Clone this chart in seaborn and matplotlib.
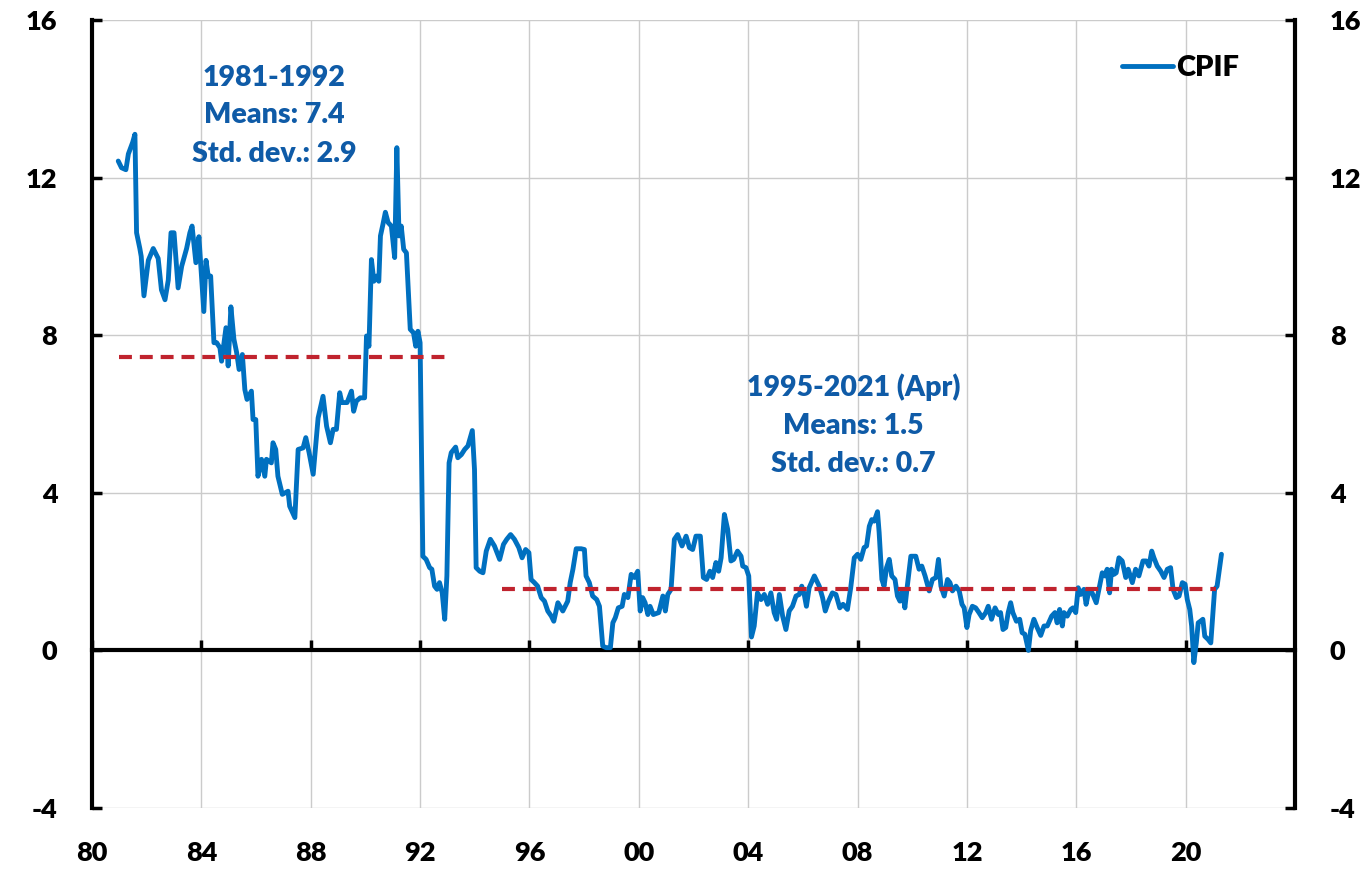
import matplotlib
matplotlib.use("Agg")
import matplotlib.pyplot as plt
import numpy as np
import pandas as pd
import seaborn as sns

# ---------------- data ----------------
dates_a = [1980.96, 1981.08, 1981.24, 1981.33, 1981.49, 1981.57, 1981.63, 1981.75, 1981.80, 1981.90,
           1982.06, 1982.24, 1982.42, 1982.54, 1982.67, 1982.79, 1982.89, 1983.00, 1983.15, 1983.28,
           1983.46, 1983.58, 1983.66, 1983.80, 1983.91, 1984.09, 1984.17, 1984.25, 1984.34, 1984.46,
           1984.56, 1984.68, 1984.74, 1984.90, 1984.98, 1985.08, 1985.19, 1985.29, 1985.38, 1985.50,
           1985.59, 1985.67, 1985.83, 1985.89, 1985.99, 1986.07, 1986.20, 1986.32, 1986.38, 1986.56,
           1986.62, 1986.72, 1986.80, 1986.96, 1987.17, 1987.23, 1987.42, 1987.54, 1987.72, 1987.82,
           1987.94, 1988.09, 1988.27, 1988.45, 1988.58, 1988.72, 1988.82, 1988.94, 1989.06, 1989.14,
           1989.33, 1989.49, 1989.57, 1989.67, 1989.81, 1989.97, 1990.04, 1990.13, 1990.22, 1990.31,
           1990.40, 1990.49, 1990.55, 1990.64, 1990.73, 1990.83, 1990.95, 1991.07, 1991.15, 1991.23,
           1991.31, 1991.40, 1991.50, 1991.64, 1991.76, 1991.84, 1991.92, 1992.00]
values_a = [12.42, 12.25, 12.2, 12.6, 12.9, 13.1, 10.6, 10.2, 10.0, 9.0,
            9.9, 10.2, 9.95, 9.15, 8.9, 9.4, 10.6, 10.6, 9.2, 9.75,
            10.2, 10.6, 10.77, 9.84, 10.5, 8.6, 9.9, 9.5, 9.5, 7.81,
            7.81, 7.68, 7.34, 8.19, 7.22, 8.72, 7.9, 7.56, 7.13, 7.51,
            6.62, 6.37, 6.58, 5.86, 5.86, 4.42, 4.85, 4.42, 4.85, 4.76,
            5.27, 5.1, 4.42, 3.96, 4.04, 3.66, 3.37, 5.1, 5.14, 5.4,
            5.02, 4.47, 5.9, 6.45, 5.69, 5.27, 5.61, 5.61, 6.54, 6.29,
            6.29, 6.58, 6.07, 6.33, 6.41, 6.41, 7.98, 7.72, 9.92, 9.37,
            9.5, 9.37, 10.52, 10.81, 11.12, 10.86, 10.77, 9.97, 12.76, 10.52,
            10.77, 10.18, 10.09, 8.15, 8.06, 7.72, 8.1, 7.81]

dates_b = [1992.10, 1992.22, 1992.35, 1992.43, 1992.53, 1992.62, 1992.71, 1992.81, 1992.90, 1992.98,
           1993.06, 1993.14, 1993.30, 1993.38, 1993.51, 1993.63, 1993.75, 1993.91, 1993.99, 1994.05,
           1994.18, 1994.30, 1994.42, 1994.57, 1994.72, 1994.91, 1995.05, 1995.17, 1995.31, 1995.45,
           1995.61, 1995.73, 1995.86, 1995.98, 1996.06, 1996.18, 1996.30, 1996.43, 1996.55, 1996.67,
           1996.80, 1996.89, 1997.04, 1997.22, 1997.40, 1997.49, 1997.59, 1997.71, 1997.89, 1998.01,
           1998.07, 1998.19, 1998.31, 1998.46, 1998.56, 1998.68, 1998.80, 1998.96, 1999.05, 1999.14,
           1999.25, 1999.39, 1999.47, 1999.60, 1999.72, 1999.84, 1999.96, 2000.05, 2000.14, 2000.23,
           2000.33, 2000.41, 2000.53, 2000.73, 2000.88, 2000.97, 2001.06, 2001.18, 2001.30, 2001.42,
           2001.58, 2001.73, 2001.85, 2001.97, 2002.09, 2002.25, 2002.36, 2002.48, 2002.60, 2002.70,
           2002.82, 2002.92, 2003.01, 2003.13, 2003.25, 2003.37, 2003.47, 2003.61, 2003.74, 2003.80,
           2003.92, 2004.02, 2004.12]
values_b = [2.39, 2.31, 2.1, 2.06, 1.63, 1.55, 1.72, 1.46, 0.79, 1.89,
            4.76, 5.02, 5.16, 4.89, 4.97, 5.1, 5.19, 5.58, 4.59, 2.1,
            2.01, 1.97, 2.52, 2.82, 2.65, 2.31, 2.69, 2.82, 2.94, 2.82,
            2.61, 2.35, 2.56, 2.48, 1.8, 1.72, 1.63, 1.34, 1.25, 1.0,
            0.87, 0.74, 1.21, 1.0, 1.25, 1.72, 2.06, 2.58, 2.58, 2.56,
            1.89, 1.72, 1.38, 1.29, 1.12, 0.11, 0.07, 0.07, 0.7, 0.83,
            1.08, 1.12, 1.42, 1.34, 1.93, 1.85, 2.01, 1.0, 1.34, 1.21,
            0.91, 1.12, 0.91, 0.96, 1.38, 1.0, 1.42, 1.55, 2.82, 2.94,
            2.65, 2.9, 2.61, 2.56, 2.9, 2.9, 1.85, 1.8, 2.01, 1.85,
            2.23, 2.01, 2.35, 3.45, 3.07, 2.27, 2.31, 2.52, 2.39, 2.14,
            2.1, 1.89, 0.34]

dates_c = [2004.22, 2004.34, 2004.47, 2004.59, 2004.71, 2004.83, 2004.95, 2005.04, 2005.14, 2005.26,
           2005.38, 2005.50, 2005.62, 2005.75, 2005.87, 2005.96, 2006.05, 2006.13, 2006.23, 2006.42,
           2006.60, 2006.72, 2006.82, 2006.94, 2007.08, 2007.21, 2007.35, 2007.47, 2007.63, 2007.75,
           2007.88, 2008.00, 2008.12, 2008.24, 2008.33, 2008.43, 2008.52, 2008.61, 2008.73, 2008.79,
           2008.89, 2008.97, 2009.06, 2009.16, 2009.25, 2009.37, 2009.46, 2009.55, 2009.64, 2009.73,
           2009.82, 2009.95, 2010.13, 2010.25, 2010.35, 2010.47, 2010.62, 2010.74, 2010.87, 2010.96,
           2011.05, 2011.17, 2011.29, 2011.38, 2011.47, 2011.60, 2011.72, 2011.82, 2011.90, 2012.00,
           2012.08, 2012.20, 2012.32, 2012.44, 2012.56, 2012.69, 2012.78, 2012.90, 2013.03, 2013.15,
           2013.23, 2013.32, 2013.42, 2013.51, 2013.60, 2013.68, 2013.81, 2013.93, 2014.02, 2014.12,
           2014.25, 2014.33, 2014.45, 2014.57, 2014.70, 2014.82, 2014.94]
values_c = [0.62, 1.46, 1.29, 1.42, 1.17, 1.46, 0.96, 0.79, 1.42, 0.87,
            0.53, 1.0, 1.12, 1.38, 1.42, 1.63, 1.42, 1.12, 1.59, 1.89,
            1.63, 1.34, 1.0, 1.25, 1.46, 1.42, 1.08, 1.17, 1.04, 1.59,
            2.35, 2.44, 2.31, 2.61, 2.65, 3.15, 3.32, 3.28, 3.52, 2.99,
            1.8, 1.63, 2.1, 2.31, 1.89, 1.8, 1.38, 1.25, 1.55, 1.08,
            1.63, 2.39, 2.39, 2.06, 2.14, 1.89, 1.51, 1.8, 1.85, 2.31,
            1.63, 1.38, 1.8, 1.72, 1.51, 1.63, 1.51, 1.17, 1.08, 0.58,
            0.91, 1.12, 1.08, 0.96, 0.83, 0.96, 1.12, 0.79, 1.08, 0.91,
            0.96, 0.53, 0.58, 0.96, 1.21, 0.96, 0.74, 0.79, 0.45, 0.41,
            0.0, 0.5, 0.79, 0.58, 0.38, 0.62, 0.62]

dates_d = [2015.10, 2015.22, 2015.30, 2015.39, 2015.49, 2015.55, 2015.67, 2015.80, 2015.88, 2015.98,
           2016.07, 2016.16, 2016.28, 2016.36, 2016.46, 2016.58, 2016.73, 2016.83, 2016.95, 2017.05,
           2017.13, 2017.22, 2017.29, 2017.38, 2017.46, 2017.56, 2017.68, 2017.81, 2017.90, 2018.05,
           2018.17, 2018.29, 2018.44, 2018.56, 2018.66, 2018.76, 2018.84, 2018.96, 2019.09, 2019.21,
           2019.33, 2019.45, 2019.54, 2019.66, 2019.76, 2019.88, 2019.98, 2020.06, 2020.15, 2020.22,
           2020.30, 2020.39, 2020.46, 2020.54, 2020.63, 2020.70, 2020.82, 2020.92, 2020.99, 2021.06,
           2021.15, 2021.31]
values_d = [0.87, 0.96, 0.7, 1.04, 0.62, 0.96, 0.87, 1.04, 1.08, 0.96,
            1.59, 1.42, 1.55, 1.17, 1.51, 1.46, 1.21, 1.55, 1.97, 1.89,
            2.06, 1.46, 2.06, 1.93, 1.97, 2.35, 2.27, 1.85, 2.06, 1.72,
            2.06, 1.89, 2.27, 2.27, 2.14, 2.52, 2.35, 2.14, 2.01, 1.85,
            2.06, 2.1, 1.55, 1.34, 1.38, 1.72, 1.68, 1.29, 1.04, 0.62,
            -0.31, 0.19, 0.7, 0.74, 0.79, 0.36, 0.28, 0.19, 0.87, 1.55,
            1.63, 2.44]

period_start = [1981.0, 1995.0]
period_end = [1993.0, 2021.1]
period_mean = [7.45, 1.55]

ann1_lines = ["1981-1992", "Means: 7.4", "Std. dev.: 2.9"]
ann2_lines = ["1995-2021 (Apr)", "Means: 1.5", "Std. dev.: 0.7"]

xtick_years = [1980, 1984, 1988, 1992, 1996, 2000, 2004, 2008, 2012, 2016, 2020]
xtick_labels = ["80", "84", "88", "92", "96", "00", "04", "08", "12", "16", "20"]
yticks = [-4, 0, 4, 8, 12, 16]

# ---------------- style ----------------
sns.set_theme(style="white")
plt.rcParams["font.family"] = ["Lato", "DejaVu Sans"]
plt.rcParams["font.weight"] = "heavy"
plt.rcParams["axes.unicode_minus"] = False

BLUE = "#0070C0"
RED = "#C0232E"
TXT_BLUE = "#0F5BA7"
W = "heavy"

df = pd.DataFrame({
    "date": dates_a + dates_b + dates_c + dates_d,
    "CPIF": values_a + values_b + values_c + values_d,
})

fig = plt.figure(figsize=(13.71, 8.72), dpi=100)
ax = fig.add_axes([92 / 1371, 1 - 808 / 872, (1295 - 92) / 1371, (808 - 20) / 872])

sns.lineplot(data=df, x="date", y="CPIF", ax=ax, color=BLUE, lw=3.5,
             label="CPIF", estimator=None, sort=False, zorder=4)

for s, e, m in zip(period_start, period_end, period_mean):
    mdf = pd.DataFrame({"date": [s, e], "mean": [m, m]})
    sns.lineplot(data=mdf, x="date", y="mean", ax=ax, color=RED, lw=3.0,
                 linestyle=(0, (3.1, 1.9)), estimator=None, legend=False, zorder=5)

ax.set_xlim(1980, 2024)
ax.set_ylim(-4, 16)
ax.set_xticks(xtick_years)
ax.set_xticklabels(xtick_labels)
ax.set_yticks(yticks)
ax.set_xlabel("")
ax.set_ylabel("")

ax.grid(True, color="#CBCBCB", lw=1.0)
ax.set_axisbelow(True)

for side in ["left", "right"]:
    ax.spines[side].set_visible(True)
    ax.spines[side].set_color("black")
    ax.spines[side].set_linewidth(3.0)
ax.spines["top"].set_visible(False)
ax.spines["bottom"].set_position(("data", 0))
ax.spines["bottom"].set_color("black")
ax.spines["bottom"].set_linewidth(3.0)
ax.spines["bottom"].set_zorder(3)

ax.tick_params(axis="y", which="both", direction="in", length=7, width=2.5,
               color="black", left=True, right=True, labelleft=True, labelright=True,
               labelsize=19.5, pad=25, labelcolor="black")
ax.tick_params(axis="x", which="both", direction="in", length=7, width=2.5,
               color="black", bottom=True, top=False, labelsize=19.5, pad=137,
               labelcolor="black")
for tick in ax.yaxis.get_major_ticks() + ax.xaxis.get_major_ticks():
    tick.label1.set_fontweight(W)
    tick.label2.set_fontweight(W)

for text, y in zip(ann1_lines, [14.54, 13.6, 12.59]):
    ax.text(1986.65, y, text, ha="center", va="center", color=TXT_BLUE,
            fontsize=20.5, fontweight=W, zorder=6)
for text, y in zip(ann2_lines, [6.67, 5.69, 4.72]):
    ax.text(2007.85, y, text, ha="center", va="center", color=TXT_BLUE,
            fontsize=20.5, fontweight=W, zorder=6)

handles, labels = ax.get_legend_handles_labels()
leg = ax.legend(handles[:1], labels[:1], loc="center left",
                bbox_to_anchor=((1122 - 92) / 1203, (808 - 68) / 788),
                frameon=False, borderpad=0, borderaxespad=0,
                handlelength=1.75, handletextpad=0.12,
                prop={"size": 21, "weight": W})
for t in leg.get_texts():
    t.set_color("black")

fig.savefig("out.png", dpi=100)
